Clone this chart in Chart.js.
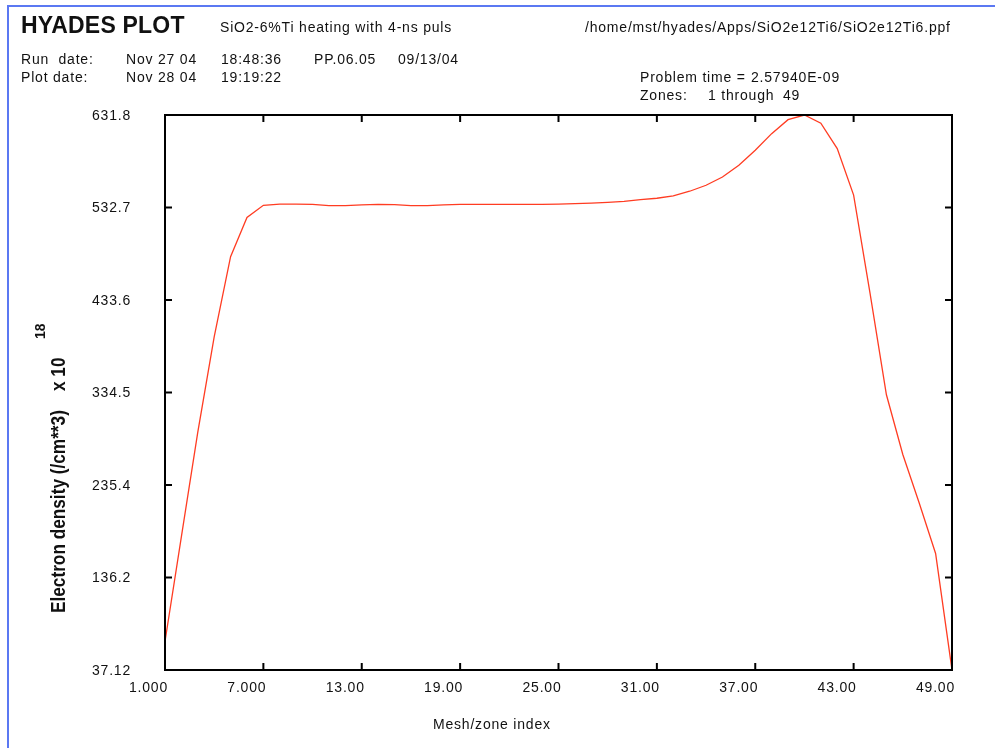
<!DOCTYPE html>
<html>
<head>
<meta charset="utf-8">
<title>HYADES PLOT</title>
<script src="https://cdn.jsdelivr.net/npm/chart.js@4.4.1/dist/chart.umd.min.js"></script>
<style>
    body { margin: 0; background: #fff; }
    #wrap { position: relative; width: 995px; height: 748px; overflow: hidden;
            font-family: "Liberation Sans", Arial, sans-serif; color: #111; }
    #wrap canvas { position: absolute; left: 0; top: 0; }
    #blueEdge { position: absolute; left: 7px; top: 5px; right: -4px; bottom: -4px;
                border-top: 2px solid #5b78f2; border-left: 2px solid #5b78f2; }
    .t { position: absolute; font-size: 14px; line-height: 1; letter-spacing: 0.8px; white-space: pre; }
    .big { font-size: 23px; font-weight: bold; letter-spacing: 0.2px; }
    .rot { transform-origin: 0 0; font-weight: bold; letter-spacing: 0; }
</style>
</head>
<body>
<div id="wrap">
    <canvas id="chartDensity" width="995" height="748"></canvas>
    <div id="blueEdge"></div>

    <div class="t big" style="left:21px; top:14px;">HYADES PLOT</div>
    <div class="t" style="left:220px; top:20px;">SiO2-6%Ti heating with 4-ns puls</div>
    <div class="t" style="left:585px; top:20px;">/home/mst/hyades/Apps/SiO2e12Ti6/SiO2e12Ti6.ppf</div>

    <div class="t" style="left:21px; top:51.5px;">Run  date:</div>
    <div class="t" style="left:126px; top:51.5px;">Nov 27 04</div>
    <div class="t" style="left:221px; top:51.5px;">18:48:36</div>
    <div class="t" style="left:314px; top:51.5px;">PP.06.05</div>
    <div class="t" style="left:398px; top:51.5px;">09/13/04</div>

    <div class="t" style="left:21px; top:70px;">Plot date:</div>
    <div class="t" style="left:126px; top:70px;">Nov 28 04</div>
    <div class="t" style="left:221px; top:70px;">19:19:22</div>

    <div class="t" style="left:640px; top:70px;">Problem time =</div>
    <div class="t" style="left:751px; top:70px;">2.57940E-09</div>
    <div class="t" style="left:640px; top:88px;">Zones:</div>
    <div class="t" style="left:708px; top:88px;">1 through</div>
    <div class="t" style="left:783px; top:88px;">49</div>

    <div class="t" style="left:433px; top:717px;">Mesh/zone index</div>

    <div class="t rot" style="left:47px; top:613px; font-size:21px; transform: rotate(-90deg) scaleX(0.82);">Electron density (/cm**3)    x 10</div>
    <div class="t rot" style="left:33px; top:339px; font-size:14px; transform: rotate(-90deg);">18</div>
</div>

<script>
    // zone index 1..49 and electron density (x 10^18 /cm**3)
    var zoneIndex = [
        1, 2, 3, 4, 5, 6, 7, 8, 9, 10,
        11, 12, 13, 14, 15, 16, 17, 18, 19, 20,
        21, 22, 23, 24, 25, 26, 27, 28, 29, 30,
        31, 32, 33, 34, 35, 36, 37, 38, 39, 40,
        41, 42, 43, 44, 45, 46, 47, 48, 49
    ];
    var electronDensity = [
        67.7, 180.0, 292.0, 394.0, 480.0, 522.0, 535.0, 536.3, 536.3, 536.0,
        534.8, 534.6, 535.6, 536.0, 535.8, 534.8, 534.6, 535.6, 536.0, 536.0,
        536.0, 536.0, 536.0, 536.0, 536.3, 536.8, 537.4, 538.2, 539.2, 541.2,
        542.6, 545.1, 550.1, 556.5, 565.4, 578.0, 594.0, 611.8, 626.8, 631.8,
        623.0, 595.8, 546.0, 441.0, 332.0, 268.0, 216.0, 162.0, 37.12
    ];

    var xTickValues = [1, 7, 13, 19, 25, 31, 37, 43, 49];
    var xTickLabels = ['1.000', '7.000', '13.00', '19.00', '25.00', '31.00', '37.00', '43.00', '49.00'];
    var yTickValues = [37.12, 136.2, 235.4, 334.5, 433.6, 532.7, 631.8];
    var yTickLabels = ['37.12', '136.2', '235.4', '334.5', '433.6', '532.7', '631.8'];

    var tickFont = { family: '"Liberation Sans", Arial, sans-serif', size: 14 };

    // box round the plot with short inward ticks on all four sides
    var frameTicks = {
        id: 'frameTicks',
        beforeDraw: function (chart) {
            chart.ctx.letterSpacing = '0.8px';
        },
        afterDraw: function (chart) {
            var ctx = chart.ctx;
            var a = chart.chartArea;
            var xs = chart.scales.x;
            var ys = chart.scales.y;
            ctx.save();
            ctx.strokeStyle = '#000';
            ctx.lineWidth = 2;
            ctx.strokeRect(a.left, a.top, a.right - a.left, a.bottom - a.top);
            ctx.beginPath();
            xs.ticks.forEach(function (t) {
                var px = xs.getPixelForValue(t.value);
                ctx.moveTo(px, a.bottom);
                ctx.lineTo(px, a.bottom - 7);
                ctx.moveTo(px, a.top);
                ctx.lineTo(px, a.top + 7);
            });
            ys.ticks.forEach(function (t) {
                var py = ys.getPixelForValue(t.value);
                ctx.moveTo(a.left, py);
                ctx.lineTo(a.left + 7, py);
                ctx.moveTo(a.right, py);
                ctx.lineTo(a.right - 7, py);
            });
            ctx.stroke();
            ctx.restore();
        }
    };

    var chartPoints = zoneIndex.map(function (z, i) {
        return { x: z, y: electronDensity[i] };
    });

    var $chartDensity = document.getElementById('chartDensity').getContext('2d');
    var $objChartDensity = new Chart($chartDensity, {
        type: 'line',
        data: {
            datasets: [{
                data: chartPoints,
                borderColor: '#ff3c22',
                borderWidth: 1.3,
                pointRadius: 0,
                fill: false,
                tension: 0
            }]
        },
        options: {
            responsive: false,
            animation: false,
            layout: {
                padding: { top: 115, right: 43, left: 0, bottom: 0 }
            },
            plugins: {
                legend: { display: false },
                tooltip: { enabled: false }
            },
            scales: {
                x: {
                    type: 'linear',
                    min: 1,
                    max: 49,
                    grid: { display: false, drawTicks: false },
                    border: { display: false },
                    afterBuildTicks: function (scale) {
                        scale.ticks = xTickValues.map(function (v) { return { value: v }; });
                    },
                    afterFit: function (scale) {
                        scale.height = 78;
                    },
                    ticks: {
                        align: 'end',
                        labelOffset: 3,
                        padding: 10,
                        maxRotation: 0,
                        autoSkip: false,
                        color: '#111',
                        font: tickFont,
                        callback: function (value, index) {
                            return xTickLabels[index];
                        }
                    }
                },
                y: {
                    type: 'linear',
                    min: 37.12,
                    max: 631.8,
                    grid: { display: false, drawTicks: false },
                    border: { display: false },
                    afterBuildTicks: function (scale) {
                        scale.ticks = yTickValues.map(function (v) { return { value: v }; });
                    },
                    afterFit: function (scale) {
                        scale.width = 165;
                    },
                    ticks: {
                        padding: 34,
                        labelOffset: 1,
                        autoSkip: false,
                        color: '#111',
                        font: tickFont,
                        callback: function (value, index) {
                            return yTickLabels[index];
                        }
                    }
                }
            }
        },
        plugins: [frameTicks]
    });
</script>
</body>
</html>
